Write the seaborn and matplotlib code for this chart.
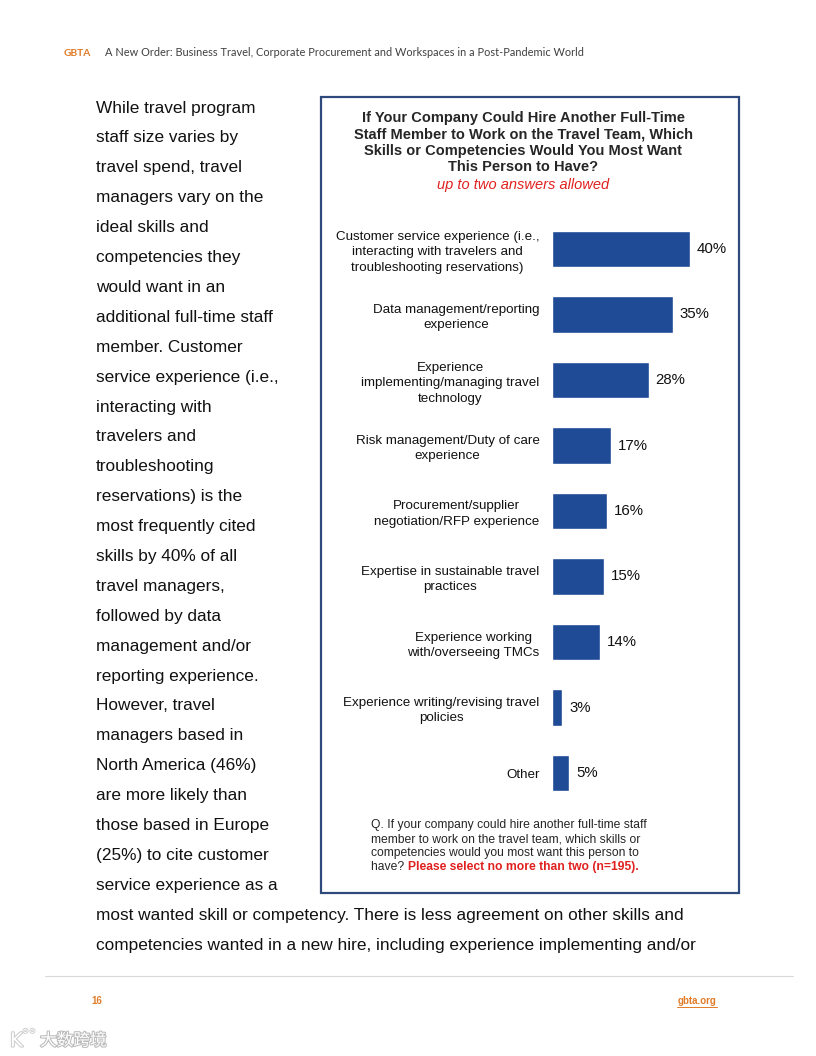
import matplotlib
matplotlib.use("Agg")
import matplotlib.pyplot as plt
import matplotlib.patches as patches
import matplotlib.patheffects as pe
import seaborn as sns

# -----------------------------------
# Data
categories = [
    "Customer service experience (i.e.,\ninteracting with travelers and\ntroubleshooting reservations)",
    "Data management/reporting\nexperience",
    "Experience\nimplementing/managing travel\ntechnology",
    "Risk management/Duty of care\nexperience",
    "Procurement/supplier\nnegotiation/RFP experience",
    "Expertise in sustainable travel\npractices",
    "Experience working\nwith/overseeing TMCs",
    "Experience writing/revising travel\npolicies",
    "Other",
]
values = [40, 35, 28, 17, 16, 15, 14, 3, 5]

body_lines = [
    "While travel program", "staff size varies by", "travel spend, travel",
    "managers vary on the", "ideal skills and", "competencies they",
    "would want in an", "additional full-time staff", "member. Customer",
    "service experience (i.e.,", "interacting with", "travelers and",
    "troubleshooting", "reservations) is the", "most frequently cited",
    "skills by 40% of all", "travel managers,", "followed by data",
    "management and/or", "reporting experience.", "However, travel",
    "managers based in", "North America (46%)", "are more likely than",
    "those based in Europe", "(25%) to cite customer", "service experience as a",
    "most wanted skill or competency. There is less agreement on other skills and",
    "competencies wanted in a new hire, including experience implementing and/or",
]

BAR = "#1F4A96"
ORANGE = "#E07B28"
RED = "#E0201E"
W, H = 816, 1056

def fx(px):
    return px / W

def fy(py):
    return 1 - py / H

sns.set_style("white")
plt.rcParams["font.family"] = ["Liberation Sans", "DejaVu Sans"]

fig = plt.figure(figsize=(8.16, 10.56), dpi=100)

# -----------------------------------
# Bar chart
ax = fig.add_axes([fx(552), fy(805.75), fx(178), 589.5 / H])
sns.barplot(x=values, y=categories, orient="h", color=BAR, width=0.55,
            saturation=1, ax=ax)
ax.set_xlim(0, 178 / 3.45)
ax.set_ylim(8.5, -0.5)
ax.set_xticks([])
ax.set_xlabel("")
ax.set_ylabel("")
sns.despine(ax=ax, left=True, bottom=True)
ax.tick_params(axis="y", length=0, pad=9, labelsize=9.6, labelcolor="#111111")
for lab in ax.get_yticklabels():
    lab.set_multialignment("center")
    lab.set_linespacing(1.38)
ax.bar_label(ax.containers[0], fmt="%d%%", padding=5, fontsize=10.8, color="#111111")

# Chart box
fig.add_artist(patches.Rectangle((fx(321), fy(893)), fx(739) - fx(321), fy(97) - fy(893),
                                 transform=fig.transFigure, fill=False,
                                 edgecolor="#2E4A7D", linewidth=1.6))

title = ("If Your Company Could Hire Another Full-Time\n"
         "Staff Member to Work on the Travel Team, Which\n"
         "Skills or Competencies Would You Most Want\n"
         "This Person to Have?")
fig.text(fx(523), fy(142.5), title, ha="center", va="center", fontsize=10.5,
         fontweight="bold", linespacing=1.24)
fig.text(fx(523), fy(185), "up to two answers allowed", ha="center", va="center",
         fontsize=10.5, style="italic", color=RED)

foot = ["Q. If your company could hire another full-time staff",
        "member to work on the travel team, which skills or",
        "competencies would you most want this person to"]
for i, line in enumerate(foot):
    fig.text(fx(371), fy(825 + i * 14), line, ha="left", va="center", fontsize=8.7)
t = fig.text(fx(371), fy(867), "have? ", ha="left", va="center", fontsize=8.7)
fig.canvas.draw()
bb = t.get_window_extent()
fig.text(bb.x1 / W, fy(867), "Please select no more than two (n=195).",
         ha="left", va="center", fontsize=8.7, fontweight="bold", color=RED)

# -----------------------------------
# Page text
for i, line in enumerate(body_lines):
    fig.text(fx(96), fy(108 + i * 29.9), line, ha="left", va="center",
             fontsize=12.4, color="#111111")

# Header
fig.text(fx(64), fy(53), "GBTA", ha="left", va="center", fontsize=7.4,
         fontweight="bold", color=ORANGE, family=["Lato", "DejaVu Sans"])
fig.text(fx(105), fy(53),
         "A New Order: Business Travel, Corporate Procurement and Workspaces in a Post-Pandemic World",
         ha="left", va="center", fontsize=7.9, color="#404040", family=["Lato", "DejaVu Sans"])

# Footer
fig.add_artist(plt.Line2D([fx(45), fx(793)], [fy(976), fy(976)],
                          transform=fig.transFigure, color="#D9D9D9", linewidth=0.8))
fig.text(fx(97), fy(1001), "16", ha="center", va="center", fontsize=7,
         fontweight="bold", color=ORANGE,
         family=["Liberation Sans Narrow", "Liberation Sans"])
fig.text(fx(717), fy(1001), "gbta.org", ha="right", va="center", fontsize=7,
         fontweight="bold", color=ORANGE,
         family=["Liberation Sans Narrow", "Liberation Sans"])
fig.add_artist(plt.Line2D([fx(677), fx(717)], [fy(1007), fy(1007)],
                          transform=fig.transFigure, color=ORANGE, linewidth=0.7))

# Watermark
fig.text(fx(40), fy(1041), "大数跨境", ha="left", va="center", fontsize=12,
         color="white", family=["Noto Sans CJK SC", "DejaVu Sans"],
         path_effects=[pe.withStroke(linewidth=1.5, foreground="#BBBBBB")])
fig.text(fx(10), fy(1041), "K", ha="left", va="center", fontsize=14,
         color="white", family=["DejaVu Sans"],
         path_effects=[pe.withStroke(linewidth=1.5, foreground="#CCCCCC")])
fig.text(fx(22), fy(1035), "°°", ha="left", va="center", fontsize=10,
         color="white", family=["DejaVu Sans"],
         path_effects=[pe.withStroke(linewidth=1.2, foreground="#CCCCCC")])

fig.savefig("out.png", dpi=100)
